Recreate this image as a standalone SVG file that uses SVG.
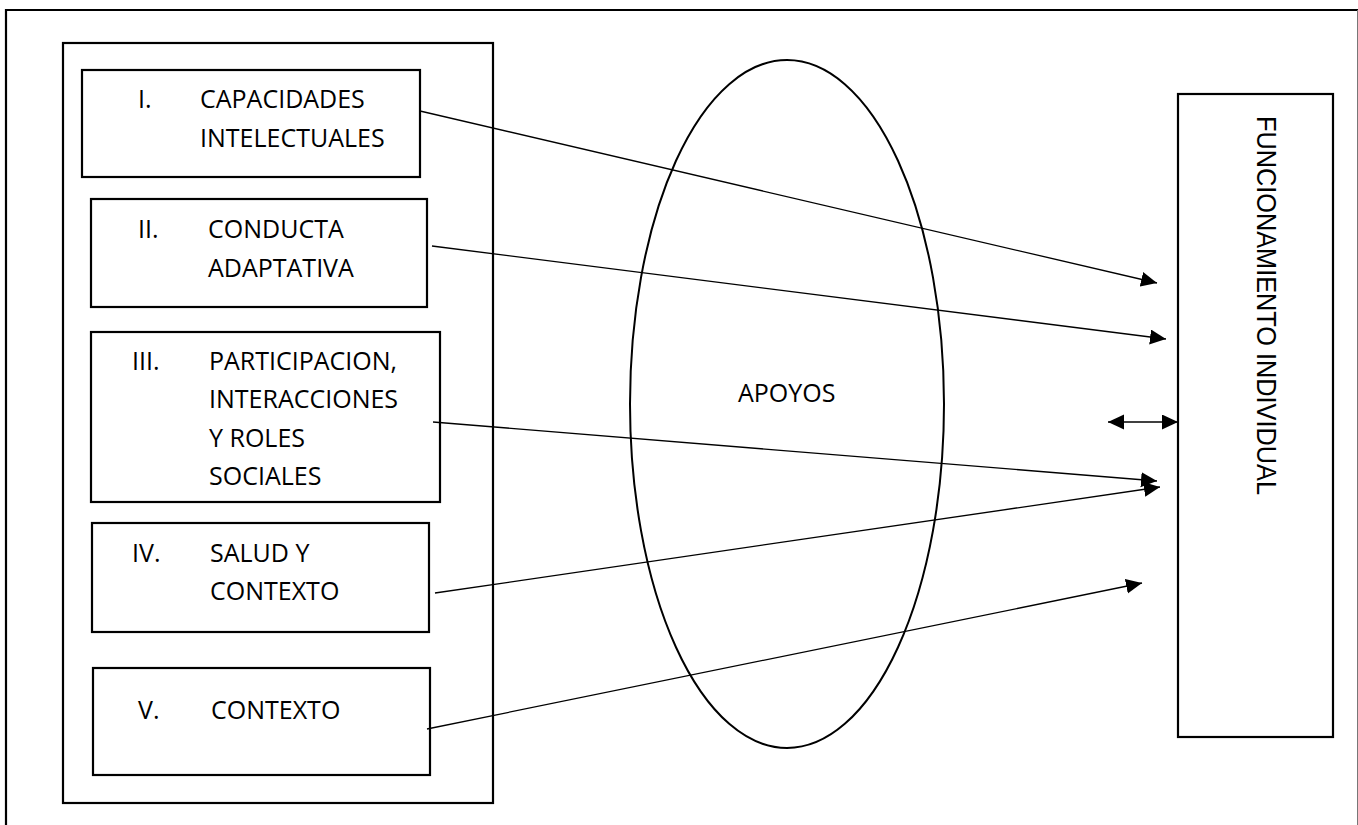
<svg xmlns="http://www.w3.org/2000/svg" width="1358" height="825" viewBox="0 0 1358 825">
<style>
.box{fill:#fff;stroke:#000;stroke-width:2.2}
.frame{fill:none;stroke:#000;stroke-width:2.2}
.t{font-family:"Open Sans","Noto Sans",sans-serif;font-size:25px;fill:#000}
.v{font-family:"Liberation Sans",Arial,sans-serif;font-size:28px;fill:#000}
.c{stroke:#000;stroke-width:1.3;fill:none}
</style>
<defs>
<marker id="ah" markerUnits="userSpaceOnUse" markerWidth="18" markerHeight="16" refX="16" refY="7.5" orient="auto-start-reverse" viewBox="0 0 18 16">
<path d="M0,0 L16,7.5 L0,15 z" fill="#000"/>
</marker>
</defs>
<rect width="1358" height="825" fill="#fff"/>
<g id="page-frame">
<path class="frame" d="M1358,10 H6 V825"/>
<line x1="1357.5" y1="10" x2="1357.5" y2="825" stroke="#777" stroke-width="1"/>
</g>
<g id="container">
<rect class="box" x="63" y="43" width="430" height="760"/>
</g>
<g id="node-1">
<rect class="box" x="82" y="70" width="338" height="107"/>
<text class="t" x="138" y="108">I.</text>
<text class="t" x="200" y="108">CAPACIDADES</text>
<text class="t" x="200" y="147">INTELECTUALES</text>
</g>
<g id="node-2">
<rect class="box" x="91" y="199" width="336" height="108"/>
<text class="t" x="138" y="238">II.</text>
<text class="t" x="208" y="238">CONDUCTA</text>
<text class="t" x="208" y="277">ADAPTATIVA</text>
</g>
<g id="node-3">
<rect class="box" x="91" y="332" width="349" height="170"/>
<text class="t" x="132" y="370">III.</text>
<text class="t" x="209" y="370">PARTICIPACION,</text>
<text class="t" x="209" y="408">INTERACCIONES</text>
<text class="t" x="209" y="447">Y ROLES</text>
<text class="t" x="209" y="485">SOCIALES</text>
</g>
<g id="node-4">
<rect class="box" x="92" y="523" width="337" height="109"/>
<text class="t" x="132" y="562">IV.</text>
<text class="t" x="210" y="562">SALUD Y</text>
<text class="t" x="210" y="600">CONTEXTO</text>
</g>
<g id="node-5">
<rect class="box" x="93" y="668" width="337" height="107"/>
<text class="t" x="138" y="719">V.</text>
<text class="t" x="211" y="719">CONTEXTO</text>
</g>
<g id="apoyos">
<ellipse cx="787" cy="404" rx="157" ry="344" fill="none" stroke="#000" stroke-width="2"/>
<text class="t" x="738" y="402">APOYOS</text>
</g>
<g id="funcionamiento">
<rect class="box" x="1178" y="94" width="155" height="643"/>
<text class="v" transform="translate(1257,116) rotate(90)" textLength="379" lengthAdjust="spacingAndGlyphs">FUNCIONAMIENTO INDIVIDUAL</text>
</g>
<g id="connectors">
<line class="c" x1="420" y1="111" x2="1157" y2="283" marker-end="url(#ah)"/>
<line class="c" x1="432" y1="246" x2="1166" y2="339" marker-end="url(#ah)"/>
<line class="c" x1="433" y1="422" x2="1157" y2="481" marker-end="url(#ah)"/>
<line class="c" x1="435" y1="593" x2="1160" y2="487" marker-end="url(#ah)"/>
<line class="c" x1="427" y1="729" x2="1142" y2="583" marker-end="url(#ah)"/>
<line class="c" x1="1108" y1="422" x2="1178" y2="422" marker-start="url(#ah)" marker-end="url(#ah)"/>
</g>
</svg>
